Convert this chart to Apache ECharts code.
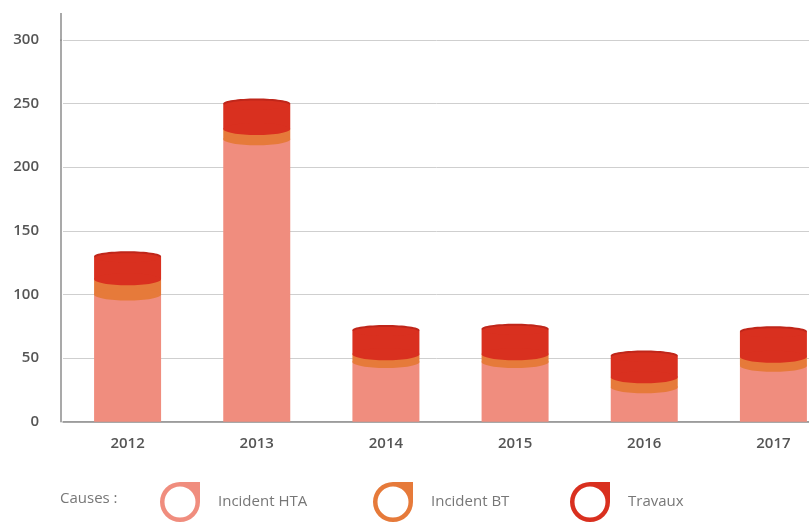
<!DOCTYPE html>
<html>
<head>
<meta charset="utf-8">
<script src="https://cdn.jsdelivr.net/npm/echarts@6/dist/echarts.min.js"></script>
<style>
html,body{margin:0;padding:0;background:#fff;}
#chart{width:809px;height:522px;}
</style>
</head>
<body>
<div id="chart"></div>
<script>
const years = ['2012', '2013', '2014', '2015', '2016', '2017'];
const incidentHTA = [100, 222, 47, 47, 27, 44];
const incidentBT = [12, 8, 6, 6, 8, 7];
const travaux = [18, 20, 19, 20, 17, 20];
const yTicks = [0, 50, 100, 150, 200, 250, 300];
const seriesNames = ['Incident HTA', 'Incident BT', 'Travaux'];
const colors = ['#f08d7e', '#e67a3a', '#d9301f'];
const capColor = '#bf261a';

const layers = [incidentHTA, incidentBT, travaux];
const BAR_W = 67;

function buildData(k) {
  return years.map((y, i) => {
    let base = 0;
    for (let j = 0; j < k; j++) base += layers[j][i];
    return [i, base, base + layers[k][i]];
  });
}

function makeRender(k) {
  return function (params, api) {
    const x = api.value(0);
    const p0 = api.coord([x, api.value(1)]);
    const p1 = api.coord([x, api.value(2)]);
    const children = [];
    const col = colors[k];
    children.push({
      type: 'rect',
      shape: { x: p0[0] - BAR_W / 2, y: p1[1], width: BAR_W, height: p0[1] - p1[1] },
      style: { fill: col }
    });
    if (k > 0) {
      children.push({
        type: 'ellipse',
        shape: { cx: p0[0], cy: p0[1], rx: BAR_W / 2, ry: 6 },
        style: { fill: col }
      });
    }
    if (k === layers.length - 1) {
      children.push({
        type: 'ellipse',
        shape: { cx: p1[0], cy: p1[1], rx: BAR_W / 2, ry: 5 },
        style: { fill: capColor }
      });
      children.push({
        type: 'ellipse',
        shape: { cx: p1[0], cy: p1[1] + 1.5, rx: BAR_W / 2 - 1, ry: 4.5 },
        style: { fill: col }
      });
    }
    return { type: 'group', children: children };
  };
}

const ringIcon = 'path://M20,0 L40,0 L40,20 A20,20 0 1,1 20,0 Z M20,4.5 A15.5,15.5 0 1,0 20,35.5 A15.5,15.5 0 1,0 20,4.5 Z';
const legendLefts = [160, 373, 570];

const chart = echarts.init(document.getElementById('chart'), null, { renderer: 'canvas' });
const option = {
  animation: false,
  backgroundColor: '#fff',
  textStyle: { fontFamily: 'Open Sans' },
  grid: { left: 63, width: 775, top: 40, height: 381.7, outerBoundsMode: 'none', containLabel: false },
  xAxis: {
    type: 'category',
    data: years,
    boundaryGap: true,
    axisLine: { show: true, lineStyle: { color: '#8c8c8c', width: 1.5 } },
    axisTick: { show: false },
    axisLabel: { color: '#555', fontSize: 15, fontWeight: 600, fontFamily: 'Open Sans', margin: 15 },
    splitLine: { show: false }
  },
  yAxis: {
    type: 'value',
    min: yTicks[0],
    max: yTicks[yTicks.length - 1],
    interval: 50,
    offset: 2,
    axisLine: { show: true, lineStyle: { color: '#8c8c8c', width: 1.5 } },
    axisTick: { show: false },
    axisLabel: { color: '#555', fontSize: 15, fontWeight: 600, fontFamily: 'Open Sans', margin: 22 },
    splitLine: { show: true, lineStyle: { color: '#cfcfcf', width: 1 } }
  },
  legend: seriesNames.map((n, k) => ({
    data: [{ name: n, icon: ringIcon, itemStyle: { color: colors[k] } }],
    left: legendLefts[k],
    top: 482,
    padding: 0,
    itemWidth: 40,
    itemHeight: 40,
    selectedMode: false,
    textStyle: { color: '#777', fontSize: 15, fontFamily: 'Open Sans', padding: [0, 0, 0, 13] }
  })),
  graphic: [
    {
      type: 'line',
      shape: { x1: 61, y1: 13, x2: 61, y2: 41 },
      style: { stroke: '#8c8c8c', lineWidth: 1.5 }
    },
    {
      type: 'text',
      left: 60,
      top: 491,
      style: { text: 'Causes :', fill: '#777', fontSize: 15, fontFamily: 'Open Sans' }
    }
  ],
  series: seriesNames.map((n, k) => ({
    name: n,
    type: 'custom',
    coordinateSystem: 'cartesian2d',
    itemStyle: { color: colors[k] },
    encode: { x: 0, y: [1, 2] },
    data: buildData(k),
    renderItem: makeRender(k)
  }))
};
chart.setOption(option);
</script>
</body>
</html>
